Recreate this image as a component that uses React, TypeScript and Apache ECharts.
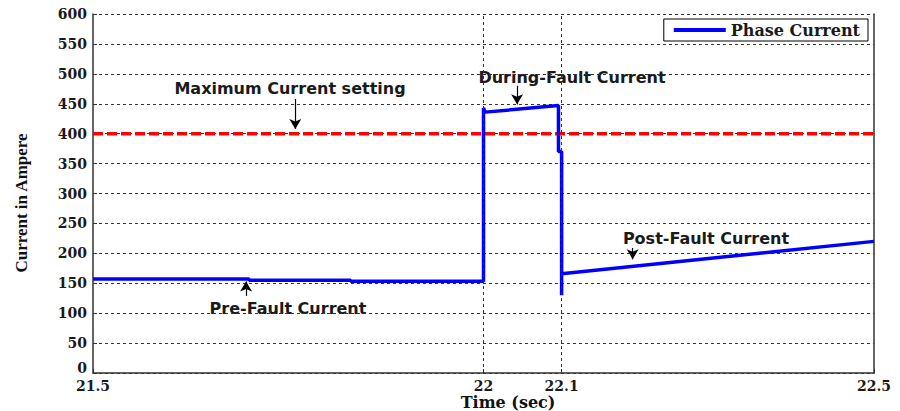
import React, { useEffect, useRef } from "react";
import * as echarts from "echarts";

const timeSec = [21.5, 21.7, 21.7, 21.83, 21.83, 22.0, 22.0, 22.002, 22.096, 22.096, 22.1, 22.1, 22.1, 22.5];
const phaseCurrent = [157, 157, 155, 155, 153.5, 153.5, 443, 436, 447, 370, 370, 130, 166, 220];
const maxSettingTime = [21.5, 22.5];
const maxSettingValue = [400, 400];
const xTickLabels = [21.5, 22, 22.1, 22.5];
const faultMarks = [22, 22.1];

// annotation arrows in data coordinates: [xStart, yStart, xEnd, yEnd]
const arrowMax = [21.759, 458, 21.759, 408];
const arrowDuring = [22.043, 480, 22.043, 449];
const arrowPre = [21.696, 129, 21.696, 153];
const arrowPost = [22.191, 209, 22.191, 190];

const serif = "'DejaVu Serif', serif";
const sans = "'DejaVu Sans', sans-serif";

export default function App() {
  const ref = useRef<HTMLDivElement>(null);
  useEffect(() => {
    if (!ref.current) return;
    const chart = echarts.init(ref.current, undefined, { renderer: "svg" });
    const arrow = (a: number[]) => [
      { coord: [a[0], a[1]] },
      { coord: [a[2], a[3]] },
    ];
    const tickFont = {
      fontFamily: serif,
      fontWeight: "bold" as const,
      fontSize: 14,
      color: "#1a1a1a",
    };
    chart.setOption({
      animation: false,
      backgroundColor: "#fff",
      grid: { left: 93, right: 26, top: 14, bottom: 38, containLabel: false },
      legend: {
        data: ["Phase Current"],
        right: 32,
        top: 19,
        orient: "horizontal",
        icon: "rect",
        itemWidth: 52,
        itemHeight: 4,
        itemGap: 6,
        padding: [3, 8, 3, 10],
        borderColor: "#000",
        borderWidth: 1,
        borderRadius: 0,
        backgroundColor: "#fff",
        textStyle: {
          fontFamily: serif,
          fontWeight: "bold",
          fontSize: 16,
          color: "#1a1a1a",
          width: 158,
        },
      },
      xAxis: {
        type: "value",
        min: 21.5,
        max: 22.5,
        interval: 0.1,
        axisLine: { show: true, onZero: false, lineStyle: { color: "#333", width: 1.5 } },
        axisTick: {
          show: true,
          inside: true,
          length: 4,
          customValues: xTickLabels,
          lineStyle: { color: "#333" },
        },
        splitLine: { show: false },
        axisLabel: {
          customValues: xTickLabels,
          formatter: (v: number) =>
            xTickLabels.some((t) => Math.abs(t - v) < 1e-6) ? String(Math.round(v * 10) / 10) : "",
          ...tickFont,
          lineHeight: 14,
          margin: 6,
          showMinLabel: true,
          showMaxLabel: true,
        },
      },
      yAxis: [
        {
          type: "value",
          min: 0,
          max: 600,
          interval: 50,
          axisLine: { show: true, lineStyle: { color: "#333", width: 1.5 } },
          axisTick: { show: true, inside: true, length: 4, lineStyle: { color: "#333" } },
          splitLine: { show: true, lineStyle: { color: "#333", type: [3, 3], width: 1 } },
          axisLabel: {
            ...tickFont,
            lineHeight: 14,
            margin: 6,
            formatter: (v: number) => (v === 0 ? "{z|0}" : String(v)),
            rich: {
              z: { ...tickFont, lineHeight: 14, padding: [0, 0, 10, 0] },
            },
          },
        },
        {
          type: "value",
          min: 0,
          max: 600,
          interval: 50,
          position: "right",
          axisLine: { show: true, lineStyle: { color: "#333", width: 1.5 } },
          axisTick: { show: false },
          splitLine: { show: false },
          axisLabel: { show: false },
        },
      ],
      series: [
        {
          name: "grid-marks",
          type: "line",
          data: [],
          silent: true,
          z: 1,
          markLine: {
            silent: true,
            symbol: ["none", "none"],
            label: { show: false },
            lineStyle: { color: "#333", type: [3, 3], width: 1 },
            data: faultMarks.map((x) => ({ xAxis: x })),
          },
        },
        {
          name: "Maximum Current setting",
          type: "line",
          data: maxSettingTime.map((t, i) => [t, maxSettingValue[i]]),
          showSymbol: false,
          z: 2,
          lineStyle: { color: "#ff0000", width: 3.5, type: [10, 4] },
          itemStyle: { color: "#ff0000" },
        },
        {
          name: "Phase Current",
          type: "line",
          data: timeSec.map((t, i) => [t, phaseCurrent[i]]),
          showSymbol: false,
          z: 3,
          lineStyle: { color: "#0000ff", width: 3.5 },
          itemStyle: { color: "#0000ff" },
          markLine: {
            silent: true,
            symbol: ["none", "arrow"],
            symbolSize: [9, 10],
            label: { show: false },
            lineStyle: { color: "#000", type: "solid", width: 1.2 },
            data: [arrow(arrowMax), arrow(arrowDuring), arrow(arrowPre), arrow(arrowPost)],
          },
        },
      ],
      graphic: [
        {
          type: "text",
          x: 290,
          y: 88,
          style: { text: "Maximum Current setting", font: `bold 16px ${sans}`, fill: "#1a1a1a", textAlign: "center", textVerticalAlign: "middle" },
        },
        {
          type: "text",
          x: 572,
          y: 77,
          style: { text: "During-Fault Current", font: `bold 16px ${sans}`, fill: "#1a1a1a", textAlign: "center", textVerticalAlign: "middle" },
        },
        {
          type: "text",
          x: 288,
          y: 308,
          style: { text: "Pre-Fault Current", font: `bold 16px ${sans}`, fill: "#1a1a1a", textAlign: "center", textVerticalAlign: "middle" },
        },
        {
          type: "text",
          x: 706,
          y: 238,
          style: { text: "Post-Fault Current", font: `bold 16px ${sans}`, fill: "#1a1a1a", textAlign: "center", textVerticalAlign: "middle" },
        },
        {
          type: "text",
          x: 508,
          y: 402,
          style: { text: "Time (sec)", font: `bold 16px ${serif}`, fill: "#111", textAlign: "center", textVerticalAlign: "middle" },
        },
        {
          type: "text",
          x: 21,
          y: 203,
          rotation: Math.PI / 2,
          style: { text: "Current in Ampere", font: `bold 17px 'Liberation Serif', serif`, fill: "#111", textAlign: "center", textVerticalAlign: "middle" },
        },
      ],
    });
    return () => chart.dispose();
  }, []);
  return <div ref={ref} style={{ width: 900, height: 411, position: "absolute", left: 0, top: 0 }} />;
}
